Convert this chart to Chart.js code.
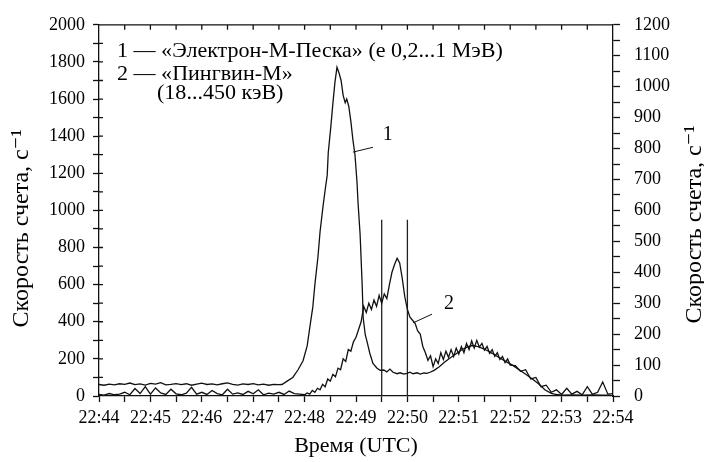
<!DOCTYPE html>
<html lang="ru">
<head>
<meta charset="UTF-8">
<title>Скорость счета</title>
<script src="https://cdn.jsdelivr.net/npm/chart.js"></script>
<style>
  html, body { margin: 0; padding: 0; background: #fff; }
</style>
</head>
<body>
<canvas id="rateChart" width="704" height="462"></canvas>
<script>
// время - в минутах от 22:44
const timeLabels = ['22:44', '22:45', '22:46', '22:47', '22:48', '22:49', '22:50', '22:51', '22:52', '22:53', '22:54'];

// 1 - «Электрон-М-Песка», левая ось
const t1 = [
  0, 0.1, 0.2, 0.3, 0.4, 0.5, 0.6, 0.7, 0.8, 0.9, 1.0, 1.1, 1.2, 1.3, 1.4, 1.5, 1.6, 1.7,
  1.8, 1.9, 2.0, 2.1, 2.2, 2.3, 2.4, 2.5, 2.6, 2.7, 2.8, 2.9, 3.0, 3.1, 3.2, 3.3, 3.4, 3.5,
  3.56, 3.66, 3.77, 3.87, 3.97, 4.05, 4.10, 4.16, 4.20, 4.26, 4.30, 4.36, 4.40, 4.44, 4.46,
  4.51, 4.55, 4.59, 4.63, 4.67, 4.71, 4.75, 4.79, 4.82, 4.86, 4.90, 4.94, 4.98, 5.02, 5.04,
  5.08, 5.12, 5.14, 5.18, 5.21, 5.27, 5.33, 5.41, 5.47, 5.54, 5.60, 5.66, 5.72, 5.80, 5.86,
  5.93, 5.99, 6.05, 6.11, 6.19, 6.25, 6.32, 6.38, 6.44, 6.52, 6.62, 6.72, 6.83, 6.95, 7.05,
  7.15, 7.25, 7.35, 7.45, 7.55, 7.65, 7.80, 7.92, 8.05, 8.18, 8.33, 8.45, 8.55, 8.68, 8.80,
  8.90, 9.0, 9.2, 9.4, 9.6, 9.8, 9.95
];
const rate1 = [
  62, 58, 64, 60, 66, 63, 70, 61, 65, 59, 68, 64, 72, 60, 63, 67, 61, 66,
  58, 64, 69, 62, 65, 60, 66, 71, 63, 59, 65, 62, 67, 60, 64, 58, 63, 61,
  62, 80, 100, 140, 190, 270, 367, 480, 600, 750, 883, 1026, 1110, 1190, 1310,
  1450, 1575, 1690, 1771, 1740, 1700, 1620, 1580, 1600, 1560, 1480, 1380, 1300, 1150, 1040,
  870, 600, 420, 330, 298, 229, 176, 150, 138, 140, 130, 145, 128, 120, 125,
  118, 122, 128, 120, 125, 118, 124, 122, 128, 138, 158, 182, 205, 228, 248,
  262, 272, 268, 258, 245, 230, 205, 185, 165, 140, 112, 88, 66, 32, 14,
  8, 5, 6, 4, 6, 5, 4
];

// 2 - «Пингвин-М», правая ось
const t2 = [
  0, 0.1, 0.2, 0.3, 0.4, 0.5, 0.6, 0.7, 0.8, 0.9, 1.0, 1.1, 1.2, 1.3, 1.4, 1.5, 1.6, 1.7,
  1.8, 1.9, 2.0, 2.1, 2.2, 2.3, 2.4, 2.5, 2.6, 2.7, 2.8, 2.9, 3.0, 3.1, 3.2, 3.3, 3.4, 3.5,
  3.6, 3.7, 3.8, 3.9,
  4.00, 4.05, 4.10, 4.15, 4.20, 4.25, 4.30, 4.35, 4.40, 4.45, 4.50, 4.55, 4.60, 4.65, 4.70,
  4.75, 4.80, 4.85, 4.90, 4.95, 5.00, 5.05, 5.10, 5.15, 5.20, 5.25, 5.30, 5.35, 5.40, 5.45,
  5.50, 5.55, 5.60, 5.65, 5.70, 5.75, 5.80, 5.85, 5.90, 5.95, 6.00, 6.05, 6.10, 6.15, 6.20,
  6.25, 6.30, 6.35, 6.40, 6.45, 6.50, 6.55, 6.60, 6.65, 6.70, 6.75, 6.80, 6.85, 6.90, 6.95,
  7.00, 7.05, 7.10, 7.15, 7.20, 7.25, 7.30, 7.35, 7.40, 7.45, 7.50, 7.55, 7.60, 7.65, 7.70,
  7.75, 7.80, 7.85, 7.90, 7.95, 8.00,
  8.1, 8.2, 8.3, 8.4, 8.5, 8.6, 8.7, 8.8, 8.9, 9.0, 9.1, 9.2, 9.3, 9.4, 9.5, 9.6, 9.7, 9.8, 9.9, 10.0
];
const rate2 = [
  5, 3, 8, 4, 6, 12, 4, 24, 8, 30, 6, 26, 10, 5, 22, 7, 4, 9,
  28, 6, 12, 5, 18, 8, 4, 22, 6, 10, 5, 15, 7, 20, 4, 9, 6, 12,
  5, 16, 8, 6,
  4, 10, 6, 18, 12, 25, 20, 38, 30, 55, 48, 70, 62, 90, 85,
  120, 112, 150, 145, 175, 190, 215, 240, 290, 270, 300, 280, 310, 290, 325,
  300, 330, 315, 360, 400, 425, 445, 430, 380, 320, 280, 255, 245, 235, 210,
  200, 160, 140, 115, 130, 95, 120, 105, 140, 118, 145, 125, 150, 128, 155,
  135, 160, 140, 170, 150, 178, 155, 180, 158, 170, 148, 160, 138, 150, 128,
  140, 118, 128, 108, 120, 100,
  98, 80, 85, 55, 60, 30, 35, 12, 20, 5, 25, 6, 15, 4, 30, 5, 12, 45, 6, 8
];

// вертикальные отметки
const markerTimes = [5.5, 6.0];
const markerTop = 950;

const legendLines = ['1 — «Электрон-М-Песка» (е 0,2...1 МэВ)', '2 — «Пингвин-М»', '(18...450 кэВ)'];
const yTitle = 'Скорость счета, с⁻¹';
// подписи кривых: [текст, время, значение по левой оси, начало выноски, конец выноски]
const curveTags = [
  ['1', 5.62, 1410, [4.94, 1314], [5.33, 1340]],
  ['2', 6.81, 495, [6.11, 394], [6.48, 441]]
];

const serif = '"Liberation Serif", "DejaVu Serif", serif';

function points(ts, vs) {
  return ts.map((t, i) => ({ x: t, y: vs[i] }));
}

const markerSets = markerTimes.map(t => ({
  data: [{ x: t, y: 0 }, { x: t, y: markerTop }],
  yAxisID: 'y',
  borderColor: '#222',
  borderWidth: 1.3,
  pointRadius: 0
}));

function stretchedText(ctx, txt, x, y, sx) {
  ctx.save();
  ctx.translate(x, y);
  ctx.scale(sx, 1);
  ctx.fillText(txt, 0, 0);
  ctx.restore();
}

const framePlugin = {
  id: 'frame',
  afterDraw(chart) {
    const ctx = chart.ctx;
    const a = chart.chartArea;
    const xs = chart.scales.x, ys = chart.scales.y;
    ctx.save();
    ctx.strokeStyle = '#111';
    ctx.lineWidth = 1.3;
    ctx.beginPath();
    ctx.moveTo(a.left, a.top);
    ctx.lineTo(a.right, a.top);
    // внутренние риски сверху
    for (let t = 0.5; t < 10; t += 0.5) {
      const px = xs.getPixelForValue(t);
      ctx.moveTo(px, a.top);
      ctx.lineTo(px, a.top + 5);
    }
    // внутренние риски слева
    for (let v = 100; v < 2000; v += 100) {
      const py = ys.getPixelForValue(v);
      ctx.moveTo(a.left, py);
      ctx.lineTo(a.left + 4, py);
    }
    ctx.stroke();

    // легенда
    ctx.fillStyle = '#000';
    ctx.font = '21px ' + serif;
    ctx.textBaseline = 'alphabetic';
    ctx.textAlign = 'left';
    stretchedText(ctx, legendLines[0], a.left + 18, a.top + 32, 1.05);
    stretchedText(ctx, legendLines[1], a.left + 18, a.top + 55, 1.05);
    stretchedText(ctx, legendLines[2], a.left + 58, a.top + 74, 1.05);

    // подписи осей Y
    ctx.font = '24px ' + serif;
    ctx.textAlign = 'center';
    ctx.textBaseline = 'middle';
    const midY = (a.top + a.bottom) / 2;
    [[a.left - 77, midY + 18], [a.right + 82, midY + 14]].forEach(([px, py]) => {
      ctx.save();
      ctx.translate(px, py);
      ctx.rotate(-Math.PI / 2);
      ctx.fillText(yTitle, 0, 0);
      ctx.restore();
    });

    // подписи кривых
    ctx.font = '20px ' + serif;
    ctx.lineWidth = 1;
    curveTags.forEach(([txt, tx, ty, p0, p1]) => {
      ctx.beginPath();
      ctx.moveTo(xs.getPixelForValue(p0[0]), ys.getPixelForValue(p0[1]));
      ctx.lineTo(xs.getPixelForValue(p1[0]), ys.getPixelForValue(p1[1]));
      ctx.stroke();
      ctx.fillText(txt, xs.getPixelForValue(tx), ys.getPixelForValue(ty));
    });
    ctx.restore();
  }
};

const axisFont = { family: serif, size: 18 };

new Chart(document.getElementById('rateChart').getContext('2d'), {
  type: 'line',
  data: {
    datasets: [
      { data: points(t1, rate1), yAxisID: 'y', borderColor: '#111', borderWidth: 1.3, pointRadius: 0 },
      { data: points(t2, rate2), yAxisID: 'y2', borderColor: '#111', borderWidth: 1.3, pointRadius: 0 }
    ].concat(markerSets)
  },
  options: {
    responsive: false,
    animation: false,
    layout: { padding: { top: 20, left: 0, right: 0, bottom: 0 } },
    plugins: { legend: { display: false }, tooltip: { enabled: false } },
    scales: {
      x: {
        type: 'linear', position: 'bottom', min: 0, max: 10,
        afterFit: s => { s.height = 66; },
        border: { color: '#111', width: 1.3 },
        grid: { drawOnChartArea: false, tickLength: 6, tickColor: '#111', tickWidth: 1.3 },
        ticks: {
          stepSize: 0.5, autoSkip: false, maxRotation: 0, color: '#000', font: axisFont, padding: 5,
          callback: v => Number.isInteger(v) ? timeLabels[v] : ''
        },
        title: { display: true, text: 'Время (UTC)', color: '#000', font: { family: serif, size: 22 }, padding: { top: 0, bottom: 3 } }
      },
      y: {
        position: 'left', min: 0, max: 2000,
        afterFit: s => { s.width = 99; },
        border: { color: '#111', width: 1.3 },
        grid: { drawOnChartArea: false, tickLength: 6, tickColor: '#111', tickWidth: 1.3 },
        ticks: {
          stepSize: 100, autoSkip: false, color: '#000', font: axisFont, padding: 8,
          callback: v => v % 200 === 0 ? v : ''
        }
      },
      y2: {
        position: 'right', min: 0, max: 1200,
        afterFit: s => { s.width = 91; },
        border: { color: '#111', width: 1.3 },
        grid: { drawOnChartArea: false, tickLength: 7, tickColor: '#111', tickWidth: 1.3 },
        ticks: {
          stepSize: 50, autoSkip: false, color: '#000', font: axisFont, padding: 14,
          callback: v => v % 100 === 0 ? v : ''
        }
      }
    }
  },
  plugins: [framePlugin]
});
</script>
</body>
</html>
